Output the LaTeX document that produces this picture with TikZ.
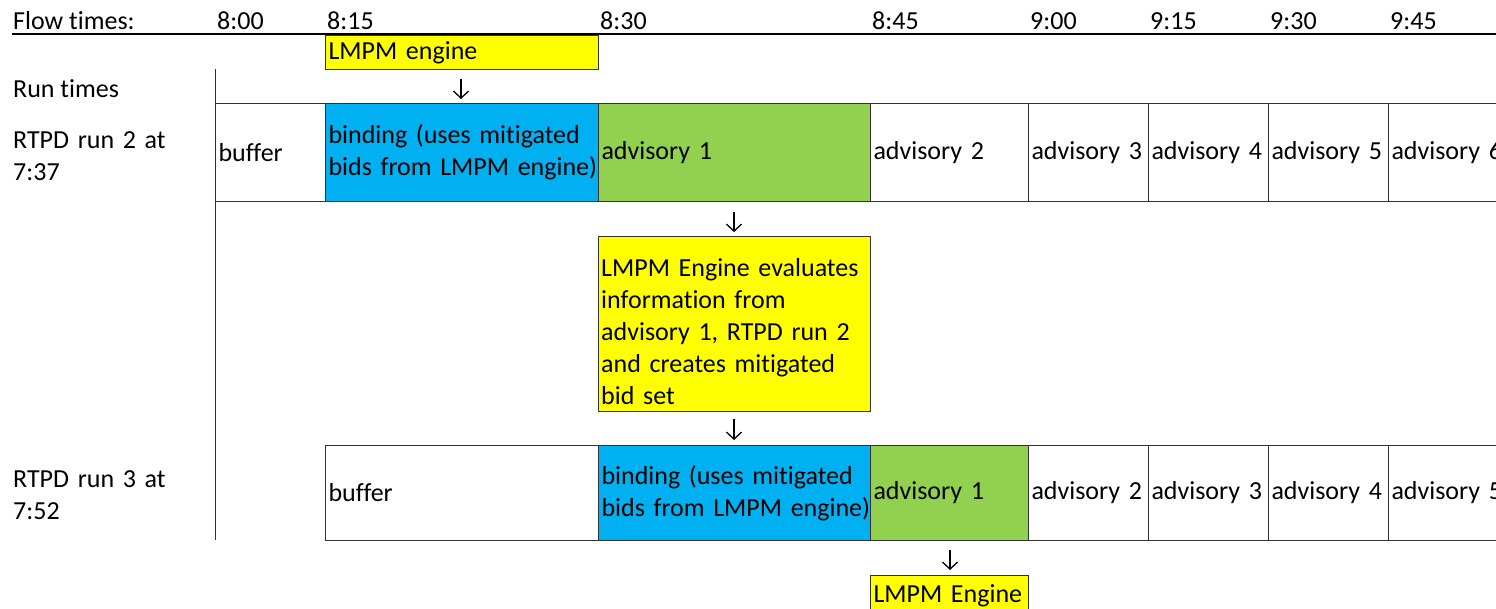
\documentclass[tikz,border=0pt]{standalone}
\usepackage{fontspec}
\setmainfont{Carlito}[Ligatures={NoCommon}]
\usetikzlibrary{arrows.meta}
\definecolor{cblue}{HTML}{00B0F0}
\definecolor{cgreen}{HTML}{92D050}
\definecolor{cyellow}{HTML}{FFFF00}
\tikzset{
  every node/.style={font=\fontsize{26}{32}\selectfont},
  cell/.style={draw=black!80, line width=1pt, anchor=north west, inner xsep=3pt, inner ysep=0pt, align=left, fill=white},
  lbl/.style={anchor=base west, inner sep=0pt},
  darr/.style={line width=1.3pt, -{Straight Barb[length=7pt,width=15pt,line width=1.3pt]}},
  rule/.style={line width=1pt, draw=black!80},
}
\begin{document}
\begin{tikzpicture}[x=1pt,y=-1pt]
\useasboundingbox (0,0) rectangle (1496,608);
\clip (0,0) rectangle (1496,608);
\fill[white] (0,0) rectangle (1496,608);

% header
\node[lbl] (flow) at (13,29) {Flow times:};
\node[lbl] (t800) at (217,29) {8:00};
\node[lbl] (t815) at (327,29) {8:15};
\node[lbl] (t830) at (600,29) {8:30};
\node[lbl] (t845) at (872,29) {8:45};
\node[lbl] (t900) at (1030,29) {9:00};
\node[lbl] (t915) at (1150,29) {9:15};
\node[lbl] (t930) at (1270,29) {9:30};
\node[lbl] (t945) at (1390,29) {9:45};
\coordinate (hl) at (12,34);
\coordinate (hr) at (1496,34);
\draw[line width=1.5pt] (hl) -- (hr);

% LMPM engine top box
\node[cell, fill=cyellow, minimum width=273pt, minimum height=34pt, text width=267pt] (lmpm1) at (325,35) {LMPM engine};

% left labels
\node[lbl] (runt) at (13,97) {Run times};
\node[lbl, text width=190pt, align=left] (lab2) at (13,148) {RTPD run 2 at\\7:37};
\node[lbl, text width=190pt, align=left] (lab3) at (13,487) {RTPD run 3 at\\7:52};

% vertical line
\coordinate (vt) at (215,69);
\coordinate (vb) at (215,540);
\draw[rule] (vt) -- (vb);

% row 1
\node[cell, minimum width=110pt, minimum height=98pt, text width=104pt] (r1buf) at (215,103) {buffer};
\node[cell, fill=cblue, minimum width=273pt, minimum height=98pt, text width=267pt] (r1bind) at (325,103) {\mbox{binding (uses mitigated}\\\mbox{bids from LMPM engine)}};
\node[cell, fill=cgreen, minimum width=272pt, minimum height=98pt, text width=266pt] (r1a1) at (598,103) {advisory 1};
\node[cell, minimum width=158pt, minimum height=98pt, text width=152pt] (r1a2) at (870,103) {advisory 2};
\node[cell, minimum width=120pt, minimum height=98pt, text width=114pt] (r1a3) at (1028,103) {\mbox{advisory 3}};
\node[cell, minimum width=120pt, minimum height=98pt, text width=114pt] (r1a4) at (1148,103) {\mbox{advisory 4}};
\node[cell, minimum width=120pt, minimum height=98pt, text width=114pt] (r1a5) at (1268,103) {\mbox{advisory 5}};
\node[cell, minimum width=130pt, minimum height=98pt, text width=124pt] (r1a6) at (1388,103) {\mbox{advisory 6}};

% evaluation box
\node[cell, fill=cyellow, minimum width=272pt, minimum height=175pt] (eval) at (598,236) {};
\node[lbl, text width=266pt, align=left] (evaltxt) at (601,276) {LMPM Engine evaluates\\information from\\advisory 1, RTPD run 2\\and creates mitigated\\bid set};

% row 2
\node[cell, minimum width=273pt, minimum height=95pt, text width=267pt] (r2buf) at (325,445) {buffer};
\node[cell, fill=cblue, minimum width=272pt, minimum height=95pt, text width=266pt] (r2bind) at (598,445) {\mbox{binding (uses mitigated}\\\mbox{bids from LMPM engine)}};
\node[cell, fill=cgreen, minimum width=158pt, minimum height=95pt, text width=152pt] (r2a1) at (870,445) {advisory 1};
\node[cell, minimum width=120pt, minimum height=95pt, text width=114pt] (r2a2) at (1028,445) {\mbox{advisory 2}};
\node[cell, minimum width=120pt, minimum height=95pt, text width=114pt] (r2a3) at (1148,445) {\mbox{advisory 3}};
\node[cell, minimum width=120pt, minimum height=95pt, text width=114pt] (r2a4) at (1268,445) {\mbox{advisory 4}};
\node[cell, minimum width=130pt, minimum height=95pt, text width=124pt] (r2a5) at (1388,445) {\mbox{advisory 5}};

% bottom LMPM box
\node[cell, fill=cyellow, minimum width=158pt, minimum height=40pt, text width=152pt] (lmpm3) at (870,575) {LMPM Engine};

% arrows
\coordinate (a1s) at (461,79);
\coordinate (a1e) at (461,99);
\coordinate (a2s) at (734,212);
\coordinate (a2e) at (734,232);
\coordinate (a3s) at (734,419);
\coordinate (a3e) at (734,440);
\coordinate (a4s) at (950,550);
\coordinate (a4e) at (950,570);
\draw[darr] (a1s) -- (a1e);
\draw[darr] (a2s) -- (a2e);
\draw[darr] (a3s) -- (a3e);
\draw[darr] (a4s) -- (a4e);
\end{tikzpicture}
\end{document}
